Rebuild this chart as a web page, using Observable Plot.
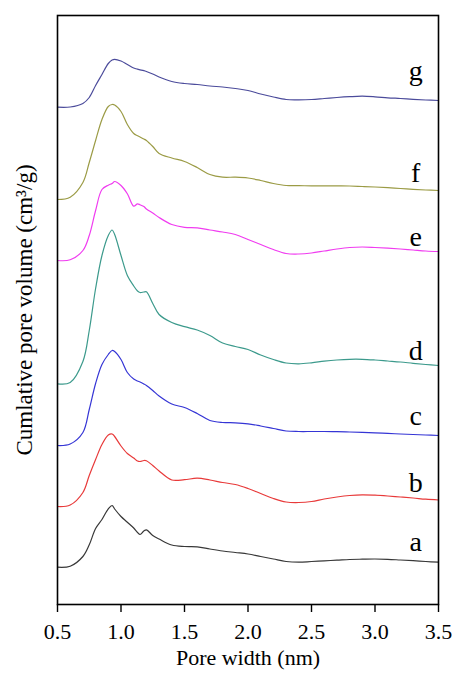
<!DOCTYPE html>
<html>
<head>
<meta charset="utf-8">
<script src="https://cdn.jsdelivr.net/npm/d3@7"></script>
<script src="https://cdn.jsdelivr.net/npm/@observablehq/plot@0.6"></script>
<style>
  html, body { margin: 0; padding: 0; background: #fff; }
  #chart { width: 456px; height: 675px; }
</style>
</head>
<body>
<div id="chart"></div>
<script>
// Pore width grid (nm)
const poreWidth = [0.5, 0.6, 0.7, 0.75, 0.8, 0.85, 0.9, 0.93, 0.95, 1.0,
  1.05, 1.1, 1.13, 1.15, 1.18, 1.2, 1.25, 1.3, 1.4, 1.5,
  1.6, 1.7, 1.8, 1.9, 2.0, 2.1, 2.2, 2.3, 2.4, 2.5,
  2.6, 2.7, 2.8, 2.9, 3.0, 3.1, 3.2, 3.3, 3.4, 3.5];

// Stacked (offset) curve values, arbitrary units
const seriesA = [37.3, 38.3, 48, 59.7, 76, 85, 95.7, 99, 95.5, 88,
  82.3, 76.5, 72, 70, 73.5, 74.7, 69, 65.5, 59.5, 58,
  57.7, 55.5, 53.5, 52, 50.5, 48, 45.5, 43, 42.3, 43,
  43.7, 44.3, 45, 45.3, 45.5, 45.2, 44.5, 43.8, 43, 42.3];
const seriesB = [98, 99.5, 112, 129, 145, 160, 169.5, 170.5, 168, 158.5,
  151, 146.5, 143.5, 143, 144, 143.8, 139, 133.5, 124.5, 124.8,
  126.3, 124.5, 122, 120, 116, 111, 106, 102.5, 102, 103,
  105.5, 107.5, 109, 109.7, 109.3, 108.5, 107.5, 106.5, 105.3, 104.5];
const seriesC = [159, 160.5, 172, 195, 221, 240, 250, 254, 253, 245,
  232, 225.5, 223.5, 222.5, 220.5, 219, 214, 208.5, 200.5, 197,
  191, 184, 182, 181.7, 180.7, 178.5, 176, 173.5, 173, 173,
  173, 172.8, 172.5, 172.1, 171.7, 171.1, 170.5, 170, 169.5, 169];
const seriesD = [220.7, 222, 243, 274, 316, 349, 369, 374.5, 370, 349,
  329, 318.5, 313.5, 312, 312.5, 312.7, 301, 290, 282, 277.8,
  274.5, 269, 261.5, 258, 255, 249.5, 245, 241.5, 240.7, 241.7,
  243.3, 244.5, 245.2, 245.2, 244.5, 243.5, 242.5, 241.2, 240, 239];
const seriesE = [344, 344.7, 354, 369, 394, 415, 419.3, 421, 423, 419,
  410.7, 398.3, 400.7, 399.7, 398, 395.5, 391.5, 387, 380, 377.2,
  376.7, 374.5, 372.5, 370, 365, 360, 355, 351, 350.5, 351.5,
  353.5, 355.5, 357, 357.5, 357, 356.3, 355.5, 354.5, 353.5, 353];
const seriesF = [405, 407.3, 422, 442, 464, 485, 498, 500, 499.5, 493,
  480, 471, 468.8, 467.5, 465.5, 464, 458, 451, 446.5, 443,
  437, 430, 427.3, 427.3, 426.5, 424, 421, 419, 418.8, 418.7,
  418.7, 418.6, 418.5, 418, 417.5, 416.8, 416, 415.2, 414.5, 414];
const seriesG = [497.3, 497.5, 501, 507, 519, 530, 541, 544.5, 545.2, 543.5,
  540, 536.5, 535.3, 534.7, 533.8, 533, 530.5, 527.5, 523, 521,
  520, 518.5, 517.5, 516, 514, 510.5, 507.5, 505, 504.7, 505,
  506, 507, 507.8, 508.3, 507.7, 506.7, 506, 505.2, 504.5, 504];

const seriesNames = ["a", "b", "c", "d", "e", "f", "g"];
const seriesColors = ["#383838", "#e83a3a", "#3535d5", "#3c9a8c", "#f03cf0", "#9b9b45", "#4b4b9b"];
const labelX = [3.32, 3.32, 3.32, 3.32, 3.32, 3.32, 3.32];
const labelY = [62.3, 121.6, 188.3, 253.3, 367.6, 431.6, 533.3];
const xTicks = [0.5, 1.0, 1.5, 2.0, 2.5, 3.0, 3.5];
const xTitle = "Pore width (nm)";
const yTitle = "Cumlative pore volume (cm\u00B3/g)";

const allSeries = [seriesA, seriesB, seriesC, seriesD, seriesE, seriesF, seriesG];
const lineMarks = allSeries.map((vals, i) =>
  Plot.line(poreWidth.map((x, j) => ({x, y: vals[j]})), {
    x: "x", y: "y", stroke: seriesColors[i], strokeWidth: 1.2, curve: "catmull-rom"
  })
);
const labels = seriesNames.map((n, i) => ({name: n, x: labelX[i], y: labelY[i]}));

const chart = Plot.plot({
  width: 456,
  height: 675,
  marginLeft: 57,
  marginRight: 18,
  marginTop: 15,
  marginBottom: 71,
  style: {fontFamily: "'Liberation Serif', 'Times New Roman', serif", fontSize: "22px", color: "#000", background: "#fff"},
  x: {domain: [0.5, 3.5]},
  y: {domain: [0, 589], axis: null},
  marks: [
    ...lineMarks,
    Plot.frame({stroke: "#000", strokeWidth: 1.6}),
    Plot.axisX({ticks: xTicks, tickFormat: d3.format(".1f"), tickSize: 8, tickPadding: 11, label: null, stroke: "#000", strokeWidth: 1.4}),
    Plot.text(labels, {x: "x", y: "y", text: "name", fontSize: 28, textAnchor: "middle", fill: "#000"}),
    Plot.text([xTitle], {frameAnchor: "bottom", dy: 60, fontSize: 22, fill: "#000"}),
    Plot.text([yTitle], {frameAnchor: "left", textAnchor: "middle", dx: -33, rotate: -90, fontSize: 23, fill: "#000"})
  ]
});
document.getElementById("chart").appendChild(chart);
</script>
</body>
</html>
